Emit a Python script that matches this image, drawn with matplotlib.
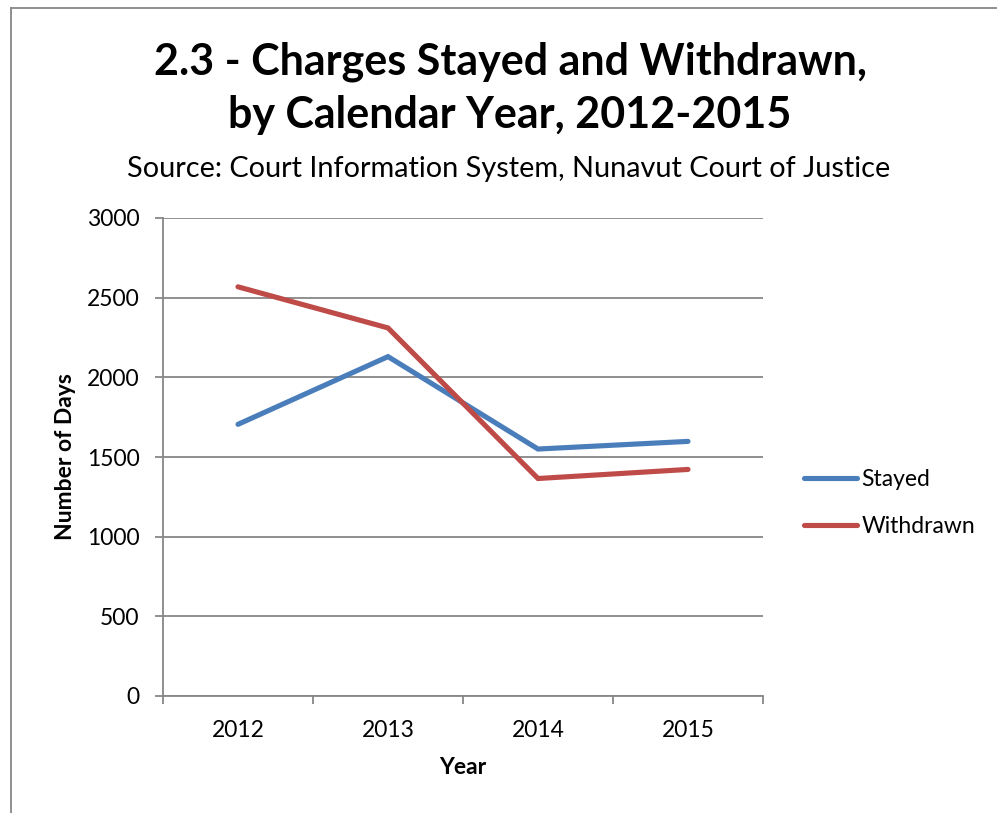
import matplotlib
matplotlib.use("Agg")
import matplotlib.pyplot as plt
from matplotlib.lines import Line2D

plt.rcParams['font.family'] = ['Lato', 'DejaVu Sans']

years = ['2012', '2013', '2014', '2015']
stayed = [1705, 2130, 1550, 1598]
withdrawn = [2568, 2310, 1365, 1422]
yticks = [0, 500, 1000, 1500, 2000, 2500, 3000]

BLUE = '#4A7EBB'
RED = '#BE4B48'
GRID = '#878787'

W, H = 997, 813
fig = plt.figure(figsize=(W / 100, H / 100), dpi=100)
fig.patch.set_facecolor('white')

# plot area in pixel terms
left, right, top, bottom = 163, 763, 218, 696
ax = fig.add_axes([left / W, 1 - bottom / H, (right - left) / W, (bottom - top) / H])

x = list(range(len(years)))
ax.plot(x, stayed, color=BLUE, lw=3.7, solid_capstyle='round', solid_joinstyle='miter', label='Stayed', zorder=3)
ax.plot(x, withdrawn, color=RED, lw=3.7, solid_capstyle='round', solid_joinstyle='miter', label='Withdrawn', zorder=3)

ax.set_xlim(-0.5, len(years) - 0.5)
ax.set_ylim(0, 3000)
ax.set_yticks(yticks)
ax.set_xticks(x)
ax.set_xticklabels(years)
ax.set_xticks([i - 0.5 for i in range(len(years) + 1)], minor=True)

ax.yaxis.grid(True, color=GRID, lw=1.3)
ax.set_axisbelow(True)
for s in ['top', 'right']:
    ax.spines[s].set_visible(False)
for s in ['left', 'bottom']:
    ax.spines[s].set_color(GRID)
    ax.spines[s].set_linewidth(1.3)

ax.tick_params(axis='y', direction='out', length=5.8, width=1.3, color=GRID, labelsize=16.5, pad=11)
ax.tick_params(axis='x', which='major', length=0, labelsize=16.5, pad=17)
ax.tick_params(axis='x', which='minor', direction='out', length=5.8, width=1.3, color=GRID)

ax.set_xlabel('Year', fontsize=16.5, fontweight='bold', labelpad=12)
ax.set_ylabel('Number of Days', fontsize=16.5, fontweight='bold', labelpad=8)

fig.text(510 / W, 1 - 75 / H, '2.3 - Charges Stayed and Withdrawn,', ha='center', va='baseline',
         fontsize=31, fontweight='bold')
fig.text(510 / W, 1 - 128 / H, 'by Calendar Year, 2012-2015', ha='center', va='baseline',
         fontsize=31, fontweight='bold')
fig.text(509 / W, 1 - 177 / H, 'Source: Court Information System, Nunavut Court of Justice', ha='center',
         va='baseline', fontsize=20.8)

ax.legend(loc='center left', bbox_to_anchor=(795 / W, 1 - 503 / H), bbox_transform=fig.transFigure,
          frameon=False, fontsize=16.5, handlelength=2.3, handletextpad=0.2, labelspacing=1.17,
          borderaxespad=0)

# chart frame (only left and top edges visible in the crop)
fig.add_artist(Line2D([11 / W, 11 / W], [0, 1 - 8 / H], color=GRID, lw=1.3, transform=fig.transFigure))
fig.add_artist(Line2D([11 / W, 1], [1 - 8 / H, 1 - 8 / H], color=GRID, lw=1.3, transform=fig.transFigure))

fig.savefig('out.png', dpi=100)
